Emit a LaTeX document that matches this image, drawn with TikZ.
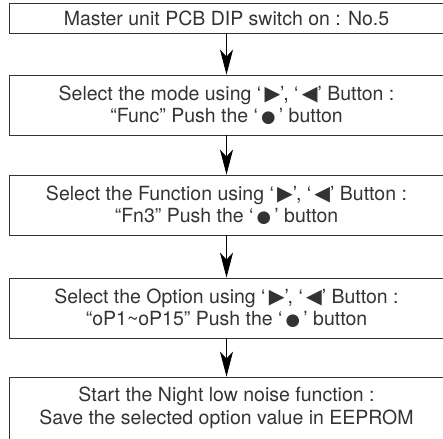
\documentclass[tikz,border=0pt]{standalone}
\usepackage{fontspec}
\setmainfont{TeX Gyre Heros}
\newfontfamily\symfont{DejaVu Sans}
\usetikzlibrary{arrows.meta}
\newcommand{\sym}[1]{\,{\symfont\scalebox{1.05}{#1}}}
\newcommand{\dotsym}{\,{\symfont\scalebox{0.85}{●}}\,}
\definecolor{inkgray}{HTML}{333333}
\tikzset{
  stepbox/.style={draw=inkgray, line width=0.8pt, align=center, inner sep=0pt, minimum width=435pt, text=inkgray, font=\fontsize{19.5}{22.5}\selectfont},
  onebox/.style={stepbox, minimum height=30pt},
  twobox/.style={stepbox, minimum height=60pt},
  flow/.style={-{Stealth[length=25pt,width=13pt,inset=7pt]}, line width=0.8pt, draw=black}
}
\begin{document}
\begin{tikzpicture}[x=1pt, y=-1pt]
\useasboundingbox (0,0) rectangle (443,438);
\node[onebox] (dip) at (226.5,18) {Master unit PCB DIP switch on : No.5};
\node[twobox] (mode) at (226.5,105) {Select the mode using ‘\sym{▶}’, ‘\sym{◀}’ Button :\\“Func” Push the ‘\dotsym’ button};
\node[twobox] (func) at (226.5,205) {Select the Function using ‘\sym{▶}’, ‘\sym{◀}’ Button :\\“Fn3” Push the ‘\dotsym’ button};
\node[twobox] (opt) at (226.5,308) {Select the Option using ‘\sym{▶}’, ‘\sym{◀}’ Button :\\“oP1\textasciitilde oP15” Push the ‘\dotsym’ button};
\node[stepbox, minimum height=62pt] (save) at (226.5,408) {Start the Night low noise function :\\Save the selected option value in EEPROM};
\draw[flow] (dip) -- (mode);
\draw[flow] (mode) -- (func);
\draw[flow] (func) -- (opt);
\draw[flow] (opt) -- (save);
\end{tikzpicture}
\end{document}
